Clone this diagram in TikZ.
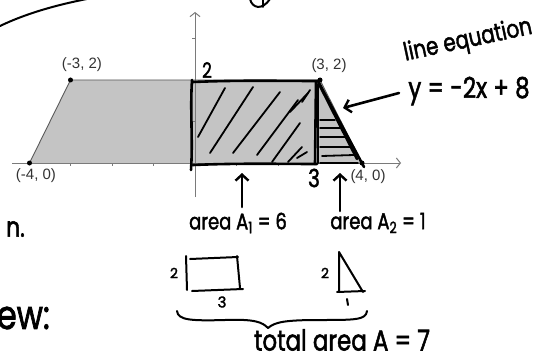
\documentclass[tikz,border=0pt]{standalone}
\usepackage{graphicx}
\usepackage{fontspec}
\setmainfont{Liberation Sans}
\newfontfamily\hand[FakeBold=2]{Poppins}
\usetikzlibrary{arrows.meta}
\newcommand{\tallhw}[1]{\scalebox{1}[1.25]{#1}}
\definecolor{fillgray}{HTML}{C4C4C4}
\definecolor{axisgray}{HTML}{7A7A7A}
\definecolor{edgegray}{HTML}{5A5A5A}
\definecolor{labelgray}{HTML}{333333}
\tikzset{
  ink/.style={line width=2.6pt, line cap=round, line join=round, black},
  hatch/.style={line width=1.8pt, line cap=round, black},
  axisline/.style={axisgray, line width=1pt},
  axisarrow/.style={axisline, -{Straight Barb[length=4pt,width=10pt,line width=1pt]}},
  ptlabel/.style={font=\fontsize{15}{15}\selectfont, text=labelgray, inner sep=0pt},
  hw/.style={font=\hand\fontsize{#1}{#1}\selectfont, inner sep=0pt},
  harrow/.style={ink, -{Straight Barb[length=6pt,width=13pt,line width=2.4pt]}},
  dotpt/.style={circle, fill=black, inner sep=0pt, minimum size=5pt},
}
\begin{document}
\begin{tikzpicture}[x=1pt,y=-1pt]
\useasboundingbox (0,0) rectangle (537,358);
\clip (0,0) rectangle (537,358);
\fill[white] (0,0) rectangle (537,358);

% key points of the graph
\coordinate (O) at (195,163);
\coordinate (P1) at (29.5,163);
\coordinate (P2) at (70.5,80);
\coordinate (P3) at (320,80);
\coordinate (P4) at (362,163);

% shaded trapezoid
\fill[fillgray] (P1) -- (P2) -- (P3) -- (P4) -- cycle;

% axes
\coordinate (xs) at (12,163);
\coordinate (xe) at (401,163);
\coordinate (ys) at (195,197);
\coordinate (ye) at (195,12);
\draw[axisarrow] (xs) -- (xe);
\draw[axisarrow] (ys) -- (ye);
\foreach \t in {70.5,112,153.5,236.5,278}
  \draw[axisline] (\t,163) -- (\t,166);
\foreach \t in {121.5,38.5}
  \draw[axisline] (195,\t) -- (192,\t);

% trapezoid edges
\draw[edgegray, line width=0.9pt] (P1) -- (P2) -- (P3) -- (P4);

% points and labels
\node[dotpt] (d1) at (P1) {};
\node[dotpt] (d2) at (P2) {};
\node[dotpt] (d3) at (P3) {};
\node[dotpt] (d4) at (P4) {};
\node[ptlabel] (l1) at (36,176) {(-4, 0)};
\node[ptlabel] (l2) at (82,65) {(-3, 2)};
\node[ptlabel] (l3) at (329,66) {(3, 2)};
\node[ptlabel] (l4) at (368,177) {(4, 0)};

% hand-drawn rectangle A1
\draw[ink] (193,82) .. controls (240,80) and (280,81) .. (318,81);
\draw[ink] (192,80) .. controls (190,110) and (193,140) .. (191,170);
\draw[ink] (193,165) .. controls (240,163) and (280,164) .. (317,164);
\draw[ink] (316,82) -- (315,164);
\draw[ink] (318,84) -- (318,163);
% hatching A1
\draw[hatch] (198,137) -- (225,88);
\draw[hatch] (210,153) -- (253,87);
\draw[hatch] (233,153) -- (280,92);
\draw[hatch] (257,155) -- (298,100);
\draw[hatch] (272,162) -- (300,123);
\draw[hatch] (288,162) -- (302,147);
\draw[hatch] (297,158) -- (307,152);
\draw[hatch] (290,112) -- (308,93);
\draw[hatch] (302,102) -- (310,90);

% hand-drawn triangle A2
\draw[ink] (318,81) -- (364,167);
\draw[ink] (319,84) -- (357,159);
\draw[hatch] (320,120) -- (335,120);
\draw[hatch] (320,128) -- (340,128);
\draw[hatch] (320,137) -- (345,137);
\draw[hatch] (320,147) -- (350,147);
\draw[hatch] (322,156) -- (354,155);
\draw[hatch] (320,163) -- (358,163);

% side labels
\node[hw=17] (two) at (207,70) {\tallhw{2}};
\node[hw=20] (three) at (314,178) {\tallhw{3}};

% line equation
\node[hw=20, rotate=12] (leq) at (468,41) {\tallhw{line equation}};
\node[hw=23] (eqn) at (469,91) {\tallhw{y = -2x + 8}};
\coordinate (eqa) at (399,93);
\coordinate (eqt) at (343,108);
\draw[harrow] (eqa) -- (eqt);

% area labels and arrows
\node[hw=18] (a1) at (238,223) {\tallhw{area A\textsubscript{1} = 6}};
\node[hw=18] (a2) at (378,223) {\tallhw{area A\textsubscript{2} = 1}};
\coordinate (a1t) at (242,173);
\coordinate (a2t) at (340,173);
\draw[harrow] (242,207) -- (a1t);
\draw[harrow] (340,211) -- (a2t);

% small rectangle sketch
\draw[ink, line width=2pt] (190,259) -- (238,257);
\draw[ink, line width=2pt] (186,256) -- (187,290);
\draw[ink, line width=2pt] (192,291) -- (243,289);
\draw[ink, line width=2pt] (237,256) -- (240,288);
\node[hw=14] (r2) at (174,273) {2};
\node[hw=15] (r3) at (222,302) {3};

% small triangle sketch
\draw[ink, line width=2pt] (339,292) -- (339,252) -- (363,292);
\draw[ink, line width=2pt] (337,292) -- (365,291);
\node[hw=14] (t2) at (325,273) {2};
\draw[ink, line width=2pt] (347,299) -- (348,305);

% brace
\draw[ink, line width=2pt] (177,311) .. controls (178,320) and (190,321) .. (225,320)
  .. controls (255,319) and (262,322) .. (268,328)
  .. controls (275,322) and (285,320) .. (320,320)
  .. controls (355,320) and (366,320) .. (367,311);
\node[hw=23] (tot) at (342,340) {\tallhw{total area A = 7}};

% cut-off handwriting at the edges
\node[hw=22, anchor=east] (nn) at (25,229) {\tallhw{n.}};
\node[hw=32, anchor=east] (ew) at (50,318) {\tallhw{ew:}};
\draw[ink, line width=2pt] (0,26) .. controls (25,14) and (55,5) .. (92,-2);
\draw[ink, line width=2pt] (250,-1) .. controls (252,8) and (262,11) .. (270,-1);
\draw[ink, line width=2pt] (263,0) -- (263,7);
\end{tikzpicture}
\end{document}
